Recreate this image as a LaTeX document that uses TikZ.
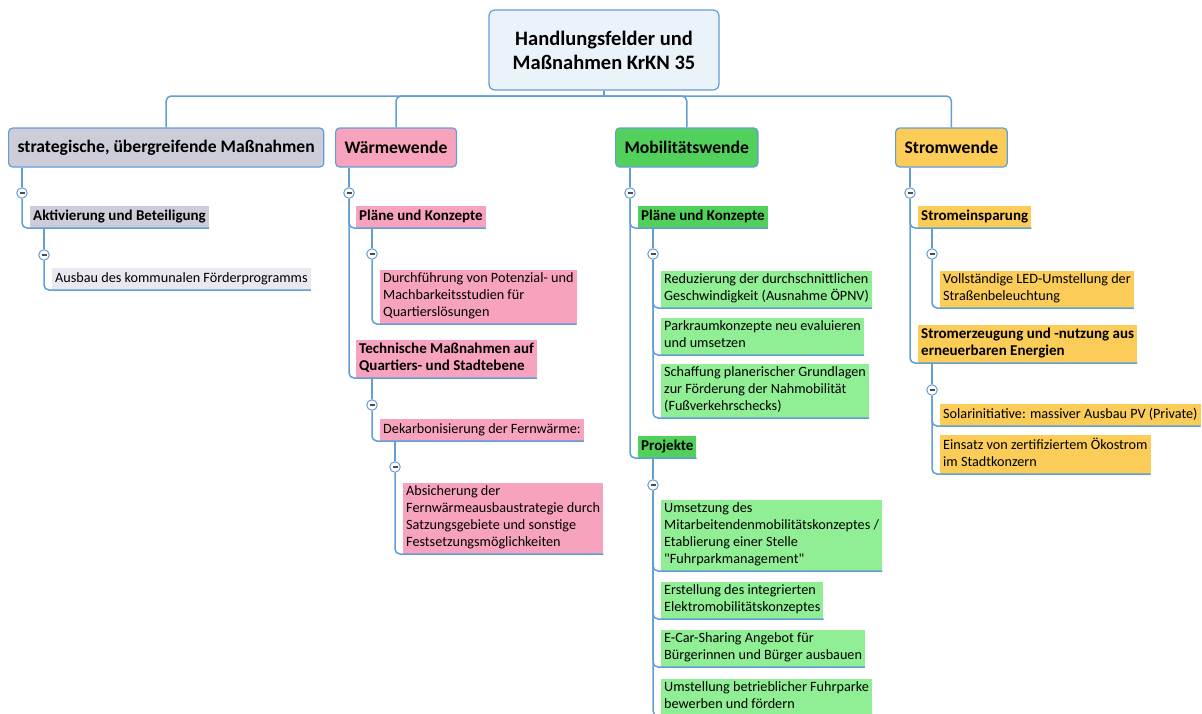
\documentclass[tikz,border=0pt]{standalone}
\usepackage{fontspec}
\setmainfont{Carlito}
\usepackage{xcolor}
\usepackage{tikz}

\definecolor{linkblue}{RGB}{98,158,214}
\definecolor{rootfill}{RGB}{234,242,250}
\definecolor{stratgrey}{RGB}{205,204,217}
\definecolor{stratlight}{RGB}{233,232,241}
\definecolor{heatpink}{RGB}{248,163,189}
\definecolor{mobgreen}{RGB}{82,208,92}
\definecolor{mobleaf}{RGB}{144,238,148}
\definecolor{poweryellow}{RGB}{251,204,87}

\begin{document}
\begin{tikzpicture}[
  x=1pt, y=-1pt,
  link/.style={draw=linkblue, line width=1.5pt, rounded corners=5pt},
  rootbox/.style={draw=linkblue, line width=1.2pt, rounded corners=6pt, fill=rootfill,
                  minimum width=230pt, minimum height=80pt, align=center,
                  font=\fontsize{20.5}{24}\selectfont\bfseries},
  field/.style={draw=linkblue, line width=1.2pt, rounded corners=4pt, anchor=west,
                minimum height=39pt, inner xsep=9pt, font=\fontsize{17.6}{20}\selectfont\bfseries},
  topic/.style={anchor=south west, align=left, inner xsep=3pt, inner ysep=2.5pt,
                execute at begin node=\strut, execute at end node=\strut,
                font=\fontsize{15}{17}\selectfont\bfseries},
  leaf/.style={topic, font=\fontsize{14.2}{17}\selectfont},
  fold/.style={circle, draw=linkblue, fill=white, line width=1pt, minimum size=10.5pt, inner sep=0pt,
               path picture={\draw[black!70, line width=1.3pt]
                 ([xshift=-2.5pt]path picture bounding box.center) -- ([xshift=2.5pt]path picture bounding box.center);}}
]
\fill[white] (0,0) rectangle (1202,713);
\useasboundingbox (0,0) rectangle (1202,713);

% root and main fields
\node[rootbox] (root) at (604,50) {Handlungsfelder und\\Maßnahmen KrKN 35};
\node[field, fill=stratgrey] (strat) at (8,147.5) {strategische, übergreifende Maßnahmen};
\node[field, fill=heatpink] (heat) at (335,147.5) {Wärmewende};
\node[field, fill=mobgreen] (mob) at (615,147.5) {Mobilitätswende};
\node[field, fill=poweryellow] (power) at (895,147.5) {Stromwende};
\coordinate (bus) at (604,96);
\draw[link] (root.south) -- (bus);
\draw[link] (strat.north) |- (bus) -| (power.north);
\draw[link] (heat.north) |- (bus);
\draw[link] (mob.north) |- (bus);

% strategische Massnahmen
\node[fold] (stratfold) at (22,193) {};
\node[topic, fill=stratgrey] (activ) at (30,228) {Aktivierung und Beteiligung};
\node[fold] (activfold) at (44,255) {};
\node[leaf, fill=stratlight] (funding) at (52,290) {Ausbau des kommunalen Förderprogramms};
\draw[link] (stratfold |- strat.south) -- (stratfold);
\draw[link] (stratfold) |- (activ.south east);
\draw[link] (activfold |- activ.south) -- (activfold);
\draw[link] (activfold) |- (funding.south east);

% Waermewende
\node[fold] (heatfold) at (349,193) {};
\node[topic, fill=heatpink] (heatplan) at (356,228) {Pläne und Konzepte};
\node[fold] (heatplanfold) at (372,254) {};
\node[leaf, fill=heatpink] (study) at (380,324) {Durchführung von Potenzial- und\\Machbarkeitsstudien für\\Quartierslösungen};
\node[topic, fill=heatpink] (heattech) at (356,378) {Technische Maßnahmen auf\\Quartiers- und Stadtebene};
\node[fold] (heattechfold) at (372,405) {};
\node[leaf, fill=heatpink] (district) at (380,441) {Dekarbonisierung der Fernwärme:};
\node[fold] (districtfold) at (395,467) {};
\node[leaf, fill=heatpink] (statute) at (403,554) {Absicherung der\\Fernwärmeausbaustrategie durch\\Satzungsgebiete und sonstige\\Festsetzungsmöglichkeiten};
\draw[link] (heatfold |- heat.south) -- (heatfold);
\draw[link] (heatfold) |- (heatplan.south east);
\draw[link] (heatfold) |- (heattech.south east);
\draw[link] (heatplanfold |- heatplan.south) -- (heatplanfold);
\draw[link] (heatplanfold) |- (study.south east);
\draw[link] (heattechfold |- heattech.south) -- (heattechfold);
\draw[link] (heattechfold) |- (district.south east);
\draw[link] (districtfold |- district.south) -- (districtfold);
\draw[link] (districtfold) |- (statute.south east);

% Mobilitaetswende
\node[fold] (mobfold) at (630,193) {};
\node[topic, fill=mobgreen] (mobplan) at (638,228) {Pläne und Konzepte};
\node[fold] (mobplanfold) at (653,254) {};
\node[leaf, fill=mobleaf] (speed) at (661,308) {Reduzierung der durchschnittlichen\\Geschwindigkeit (Ausnahme ÖPNV)};
\node[leaf, fill=mobleaf] (parking) at (661,355) {Parkraumkonzepte neu evaluieren\\und umsetzen};
\node[leaf, fill=mobleaf] (walking) at (661,418) {Schaffung planerischer Grundlagen\\zur Förderung der Nahmobilität\\(Fußverkehrschecks)};
\node[topic, fill=mobgreen] (mobproj) at (638,458) {Projekte};
\node[fold] (mobprojfold) at (653,485) {};
\node[leaf, fill=mobleaf] (staff) at (661,571) {Umsetzung des\\Mitarbeitendenmobilitätskonzeptes /\\Etablierung einer Stelle\\\textquotedbl Fuhrparkmanagement\textquotedbl};
\node[leaf, fill=mobleaf] (emob) at (661,619) {Erstellung des integrierten\\Elektromobilitätskonzeptes};
\node[leaf, fill=mobleaf] (carshare) at (661,667) {E-Car-Sharing Angebot für\\Bürgerinnen und Bürger ausbauen};
\node[leaf, fill=mobleaf] (fleet) at (661,716) {Umstellung betrieblicher Fuhrparke\\bewerben und fördern};
\draw[link] (mobfold |- mob.south) -- (mobfold);
\draw[link] (mobfold) |- (mobplan.south east);
\draw[link] (mobfold) |- (mobproj.south east);
\draw[link] (mobplanfold |- mobplan.south) -- (mobplanfold);
\foreach \leafname in {speed, parking, walking}
  \draw[link] (mobplanfold) |- (\leafname.south east);
\draw[link] (mobprojfold |- mobproj.south) -- (mobprojfold);
\foreach \leafname in {staff, emob, carshare, fleet}
  \draw[link] (mobprojfold) |- (\leafname.south east);

% Stromwende
\node[fold] (powerfold) at (910,193) {};
\node[topic, fill=poweryellow] (saving) at (918,228) {Stromeinsparung};
\node[fold] (savingfold) at (932,254) {};
\node[leaf, fill=poweryellow] (led) at (940,308) {Vollständige LED-Umstellung der\\Straßenbeleuchtung};
\node[topic, fill=poweryellow] (renew) at (918,363) {Stromerzeugung und -nutzung aus\\erneuerbaren Energien};
\node[fold] (renewfold) at (932,390) {};
\node[leaf, fill=poweryellow] (solar) at (940,426) {Solarinitiative: massiver Ausbau PV (Private)};
\node[leaf, fill=poweryellow] (green) at (940,474) {Einsatz von zertifiziertem Ökostrom\\im Stadtkonzern};
\draw[link] (powerfold |- power.south) -- (powerfold);
\draw[link] (powerfold) |- (saving.south east);
\draw[link] (powerfold) |- (renew.south east);
\draw[link] (savingfold |- saving.south) -- (savingfold);
\draw[link] (savingfold) |- (led.south east);
\draw[link] (renewfold |- renew.south) -- (renewfold);
\draw[link] (renewfold) |- (solar.south east);
\draw[link] (renewfold) |- (green.south east);
\end{tikzpicture}
\end{document}
